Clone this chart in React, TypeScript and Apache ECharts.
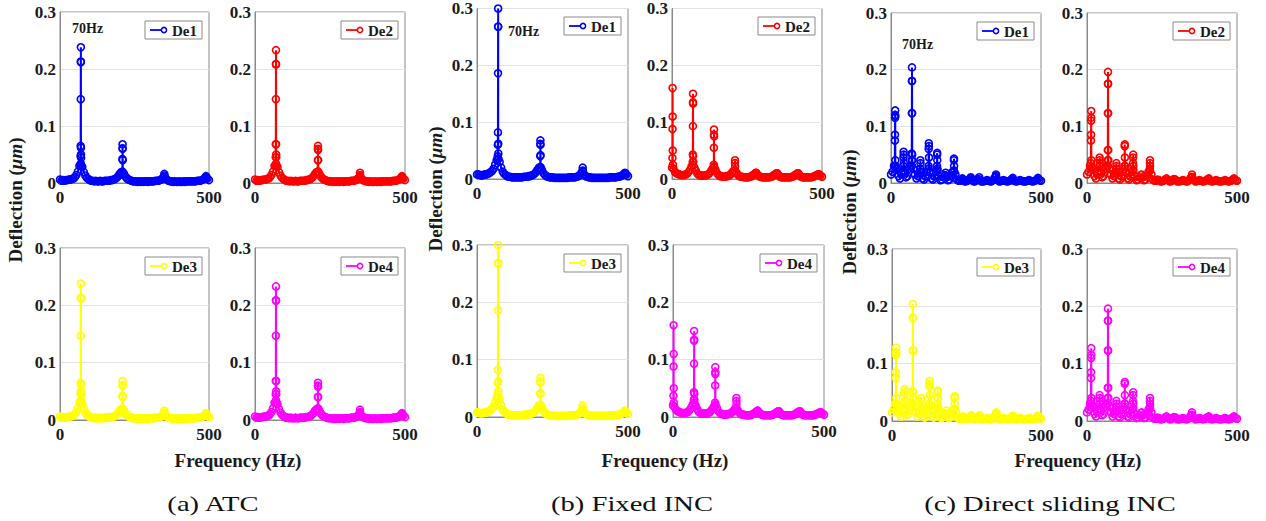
import { useEffect, useRef } from "react";
import * as echarts from "echarts";

// ---------------- DATA ----------------
// Noise-floor amplitudes (µm), sampled every STEP_HZ from 0 to 500 Hz
const STEP_HZ = 5;

const noiseATC = [
  0.006, 0.004, 0.005, 0.004, 0.005, 0.005, 0.006, 0.006, 0.007, 0.008,
  0.010, 0.014, 0.020, 0.030, 0.034, 0.028, 0.019, 0.013, 0.009, 0.007,
  0.005, 0.004, 0.004, 0.003, 0.004, 0.003, 0.003, 0.004, 0.003, 0.003,
  0.004, 0.004, 0.004, 0.004, 0.005, 0.005, 0.006, 0.007, 0.009, 0.012,
  0.016, 0.019, 0.020, 0.016, 0.011, 0.008, 0.006, 0.005, 0.004, 0.003,
  0.003, 0.003, 0.002, 0.003, 0.002, 0.003, 0.002, 0.003, 0.003, 0.002,
  0.003, 0.003, 0.003, 0.003, 0.004, 0.004, 0.004, 0.005, 0.006, 0.009,
  0.011, 0.008, 0.005, 0.004, 0.003, 0.003, 0.002, 0.003, 0.002, 0.002,
  0.003, 0.002, 0.002, 0.003, 0.002, 0.003, 0.003, 0.003, 0.003, 0.003,
  0.003, 0.003, 0.004, 0.004, 0.004, 0.005, 0.006, 0.008, 0.010, 0.008,
  0.005,
];

const noiseFixed1 = [
  0.008, 0.008, 0.007, 0.006, 0.007, 0.008, 0.008, 0.009, 0.010, 0.012,
  0.014, 0.018, 0.025, 0.033, 0.036, 0.030, 0.020, 0.013, 0.009, 0.007,
  0.005, 0.004, 0.004, 0.003, 0.003, 0.003, 0.003, 0.003, 0.003, 0.003,
  0.003, 0.004, 0.004, 0.004, 0.005, 0.005, 0.006, 0.007, 0.009, 0.012,
  0.016, 0.020, 0.021, 0.016, 0.010, 0.007, 0.005, 0.004, 0.003, 0.003,
  0.003, 0.002, 0.002, 0.002, 0.002, 0.002, 0.002, 0.002, 0.002, 0.002,
  0.002, 0.003, 0.003, 0.003, 0.003, 0.003, 0.004, 0.005, 0.006, 0.010,
  0.013, 0.008, 0.005, 0.004, 0.003, 0.003, 0.002, 0.002, 0.002, 0.002,
  0.002, 0.002, 0.002, 0.002, 0.002, 0.002, 0.002, 0.002, 0.003, 0.003,
  0.003, 0.003, 0.003, 0.004, 0.004, 0.005, 0.006, 0.008, 0.010, 0.008,
  0.005,
];

const noiseFixed2 = [
  0.020, 0.018, 0.012, 0.010, 0.009, 0.008, 0.007, 0.007, 0.007, 0.008,
  0.009, 0.012, 0.016, 0.022, 0.025, 0.020, 0.014, 0.009, 0.007, 0.006,
  0.006, 0.006, 0.006, 0.007, 0.008, 0.010, 0.014, 0.018, 0.020, 0.016,
  0.010, 0.007, 0.005, 0.005, 0.004, 0.004, 0.005, 0.005, 0.006, 0.008,
  0.011, 0.014, 0.015, 0.011, 0.007, 0.005, 0.004, 0.004, 0.003, 0.003,
  0.003, 0.003, 0.004, 0.005, 0.007, 0.009, 0.011, 0.008, 0.005, 0.004,
  0.003, 0.003, 0.003, 0.003, 0.003, 0.003, 0.004, 0.005, 0.007, 0.009,
  0.010, 0.007, 0.004, 0.003, 0.003, 0.003, 0.003, 0.003, 0.003, 0.003,
  0.004, 0.005, 0.007, 0.009, 0.010, 0.007, 0.004, 0.003, 0.003, 0.003,
  0.003, 0.003, 0.003, 0.003, 0.004, 0.005, 0.006, 0.008, 0.008, 0.006,
  0.004,
];

const noiseSliding = [
  0.015, 0.020, 0.030, 0.028, 0.025, 0.012, 0.008, 0.018, 0.022, 0.020,
  0.010, 0.012, 0.025, 0.030, 0.030, 0.025, 0.015, 0.008, 0.012, 0.020,
  0.018, 0.008, 0.006, 0.012, 0.020, 0.025, 0.020, 0.008, 0.006, 0.012,
  0.020, 0.022, 0.012, 0.005, 0.006, 0.010, 0.014, 0.010, 0.005, 0.006,
  0.012, 0.020, 0.022, 0.015, 0.006, 0.004, 0.004, 0.006, 0.005, 0.003,
  0.003, 0.004, 0.006, 0.008, 0.005, 0.003, 0.003, 0.005, 0.007, 0.006,
  0.003, 0.003, 0.003, 0.004, 0.005, 0.004, 0.003, 0.003, 0.005, 0.009,
  0.010, 0.006, 0.003, 0.003, 0.004, 0.005, 0.004, 0.003, 0.003, 0.004,
  0.006, 0.007, 0.004, 0.003, 0.003, 0.004, 0.005, 0.004, 0.003, 0.003,
  0.003, 0.004, 0.005, 0.004, 0.003, 0.003, 0.004, 0.006, 0.007, 0.005,
  0.004,
];

// Peak points [frequency Hz, deflection µm]
const peaksATC1 = [
  [68.6, 0.032], [69.0, 0.047], [69.3, 0.065], [69.6, 0.147], [69.8, 0.213],
  [70.0, 0.238], [70.2, 0.212], [70.4, 0.062], [70.6, 0.05], [70.9, 0.044], [71.3, 0.03],
  [209.2, 0.015], [209.5, 0.042], [209.8, 0.061], [210.0, 0.068], [210.2, 0.06],
  [210.5, 0.04], [210.8, 0.018],
  [349.6, 0.01], [350.0, 0.016], [350.4, 0.013],
  [489.6, 0.008], [490.0, 0.012], [490.4, 0.009],
];

const peaksATC2 = [
  [68.6, 0.03], [69.0, 0.045], [69.3, 0.068], [69.6, 0.147], [69.8, 0.209],
  [70.0, 0.233], [70.2, 0.208], [70.4, 0.068], [70.6, 0.05], [70.9, 0.045], [71.3, 0.03],
  [209.2, 0.02], [209.5, 0.04], [209.8, 0.06], [210.0, 0.065], [210.2, 0.058],
  [210.5, 0.04], [210.8, 0.02],
  [349.6, 0.012], [350.0, 0.018], [350.4, 0.014],
  [489.6, 0.008], [490.0, 0.012], [490.4, 0.01],
];

const peaksFixed1 = [
  [68.3, 0.035], [68.7, 0.04], [69.0, 0.06], [69.3, 0.082], [69.6, 0.186],
  [69.8, 0.268], [70.0, 0.3], [70.2, 0.268], [70.4, 0.062], [70.7, 0.045], [71.1, 0.035],
  [209.2, 0.02], [209.5, 0.04], [209.8, 0.062], [210.0, 0.068], [210.2, 0.06],
  [210.5, 0.042], [210.8, 0.02],
  [349.6, 0.014], [350.0, 0.02], [350.4, 0.015],
  [489.6, 0.008], [490.0, 0.011], [490.4, 0.009],
];

const peaksFixed2 = [
  [1.5, 0.037], [1.8, 0.088], [2.0, 0.16], [2.2, 0.11], [2.5, 0.05], [2.9, 0.025],
  [69.0, 0.03], [69.4, 0.043], [69.7, 0.093], [69.9, 0.135], [70.0, 0.15],
  [70.2, 0.133], [70.5, 0.04], [70.9, 0.03],
  [139.3, 0.025], [139.6, 0.055], [139.9, 0.078], [140.0, 0.087], [140.2, 0.075], [140.5, 0.022],
  [209.5, 0.015], [209.8, 0.028], [210.0, 0.033], [210.3, 0.022],
  [280.0, 0.011], [350.0, 0.01], [420.0, 0.01], [490.0, 0.008],
];

const peaksSliding1 = [
  [12.6, 0.03], [13.0, 0.075], [13.3, 0.085], [13.6, 0.115], [13.8, 0.12],
  [14.0, 0.128], [14.2, 0.118], [14.5, 0.04], [14.9, 0.03],
  [41.2, 0.03], [41.6, 0.045], [42.0, 0.055], [42.3, 0.05], [42.7, 0.035],
  [68.8, 0.04], [69.2, 0.052], [69.5, 0.123], [69.8, 0.18], [70.0, 0.204],
  [70.2, 0.18], [70.5, 0.123], [70.8, 0.05], [71.2, 0.04],
  [97.4, 0.025], [97.8, 0.04], [98.2, 0.035], [98.6, 0.02],
  [125.2, 0.03], [125.6, 0.06], [126.0, 0.07], [126.3, 0.065], [126.7, 0.045],
  [153.3, 0.03], [153.7, 0.05], [154.0, 0.053], [154.3, 0.04], [154.7, 0.025],
  [181.6, 0.012], [182.0, 0.018], [182.4, 0.012],
  [209.3, 0.02], [209.7, 0.04], [210.0, 0.043], [210.3, 0.03], [210.7, 0.02],
  [238.0, 0.008], [266.0, 0.01], [294.0, 0.01],
  [349.6, 0.012], [350.0, 0.015], [350.4, 0.011],
  [406.0, 0.009], [490.0, 0.009],
];

const peaksSliding2 = [
  [12.8, 0.035], [13.2, 0.075], [13.5, 0.085], [13.8, 0.11], [14.0, 0.127],
  [14.2, 0.115], [14.6, 0.04],
  [41.4, 0.03], [41.8, 0.04], [42.1, 0.045], [42.5, 0.035],
  [69.0, 0.04], [69.3, 0.058], [69.6, 0.123], [69.9, 0.175], [70.0, 0.196],
  [70.2, 0.175], [70.5, 0.123], [70.8, 0.058], [71.2, 0.04],
  [97.6, 0.025], [98.0, 0.035], [98.4, 0.03],
  [125.3, 0.03], [125.7, 0.065], [126.0, 0.068], [126.3, 0.045], [126.7, 0.03],
  [153.5, 0.035], [153.8, 0.045], [154.0, 0.05], [154.4, 0.03],
  [182.0, 0.015],
  [209.5, 0.025], [209.8, 0.035], [210.0, 0.04], [210.3, 0.03],
  [349.6, 0.011], [350.0, 0.015], [350.4, 0.01],
  [406.0, 0.008], [490.0, 0.008],
];

const yTicks = ["0", "0.1", "0.2", "0.3"];
const xTitle = "Frequency (Hz)";
const captions = ["(a) ATC", "(b) Fixed INC", "(c) Direct sliding INC"];
const peakNote = "70Hz";

// ---------------- LAYOUT / STYLE ----------------
const COLORS: Record<string, string> = {
  De1: "#0000ff",
  De2: "#ff0000",
  De3: "#ffff00",
  De4: "#ff00ff",
};

type Panel = { l: number; t: number; w: number; h: number; name: string; noise: number[]; peaks: number[][] };

const panels: Panel[] = [
  { l: 60, t: 12, w: 149, h: 171, name: "De1", noise: noiseATC, peaks: peaksATC1 },
  { l: 255, t: 12, w: 150, h: 171, name: "De2", noise: noiseATC, peaks: peaksATC2 },
  { l: 477, t: 8, w: 151, h: 171, name: "De1", noise: noiseFixed1, peaks: peaksFixed1 },
  { l: 672, t: 8, w: 150, h: 171, name: "De2", noise: noiseFixed2, peaks: peaksFixed2 },
  { l: 891, t: 13, w: 150, h: 170, name: "De1", noise: noiseSliding, peaks: peaksSliding1 },
  { l: 1087, t: 13, w: 150, h: 170, name: "De2", noise: noiseSliding, peaks: peaksSliding2 },
  { l: 60, t: 248, w: 149, h: 172, name: "De3", noise: noiseATC, peaks: peaksATC1 },
  { l: 255, t: 248, w: 150, h: 172, name: "De4", noise: noiseATC, peaks: peaksATC2 },
  { l: 477, t: 245, w: 151, h: 172, name: "De3", noise: noiseFixed1, peaks: peaksFixed1 },
  { l: 673, t: 245, w: 151, h: 172, name: "De4", noise: noiseFixed2, peaks: peaksFixed2 },
  { l: 892, t: 249, w: 149, h: 172, name: "De3", noise: noiseSliding, peaks: peaksSliding1 },
  { l: 1087, t: 249, w: 150, h: 172, name: "De4", noise: noiseSliding, peaks: peaksSliding2 },
];

const SERIF = "Liberation Serif";
const TEXT = "#1a1a1a";
const FRAME = "#8a8a8a";

function buildPoints(noise: number[], peaks: number[][]) {
  const pts: number[][] = noise.map((v, i) => [i * STEP_HZ, v]);
  peaks.forEach((p) => pts.push([p[0], p[1]]));
  pts.sort((a, b) => a[0] - b[0]);
  return pts;
}

function buildOption() {
  const grid: any[] = [];
  const xAxis: any[] = [];
  const yAxis: any[] = [];
  const series: any[] = [];
  const graphic: any[] = [];

  panels.forEach((p, i) => {
    const color = COLORS[p.name];
    grid.push({
      left: p.l, top: p.t, width: p.w, height: p.h,
      show: true, borderColor: FRAME, borderWidth: 1, backgroundColor: "#fff",
    });
    xAxis.push({
      gridIndex: i, type: "value", min: 0, max: 500, interval: 500,
      axisLine: { show: true, lineStyle: { color: FRAME, width: 1 } },
      axisTick: { show: false },
      splitLine: { show: false },
      axisLabel: {
        fontFamily: SERIF, fontWeight: "bold", fontSize: 17, color: TEXT, margin: 6,
        showMinLabel: true, showMaxLabel: true,
      },
    });
    yAxis.push({
      gridIndex: i, type: "value", min: 0, max: 0.3, interval: 0.1,
      axisLine: { show: true, lineStyle: { color: FRAME, width: 1 } },
      axisTick: { show: false },
      splitLine: { show: true, lineStyle: { color: "#e3e3e3", width: 1 } },
      axisLabel: {
        fontFamily: SERIF, fontWeight: "bold", fontSize: 17, color: TEXT, margin: 4,
        formatter: (v: number) => yTicks[Math.round(v * 10)] ?? String(v),
      },
    });
    series.push({
      type: "line", name: p.name, xAxisIndex: i, yAxisIndex: i,
      data: buildPoints(p.noise, p.peaks),
      symbol: "circle", symbolSize: 7, showAllSymbol: true, clip: false,
      lineStyle: { color, width: 2 },
      itemStyle: { color: "rgba(255,255,255,0)", borderColor: color, borderWidth: 1.6 },
      emphasis: { disabled: true }, silent: true, z: 3,
    });

    // legend box (MATLAB style)
    const bw = 57, bh = 18;
    const bx = p.l + p.w - 7 - bw;
    const by = p.t + 9;
    graphic.push({
      type: "group", z: 100, silent: true,
      children: [
        { type: "rect", shape: { x: bx, y: by, width: bw, height: bh }, style: { fill: "#fff", stroke: FRAME, lineWidth: 1 } },
        { type: "line", shape: { x1: bx + 5, y1: by + bh / 2, x2: bx + 20, y2: by + bh / 2 }, style: { stroke: color, lineWidth: 1.8 } },
        { type: "circle", shape: { cx: bx + 19, cy: by + bh / 2, r: 2.6 }, style: { fill: "#fff", stroke: color, lineWidth: 1.5 } },
        {
          type: "text", x: bx + 27, y: by + bh / 2 + 0.5,
          style: { text: p.name, fill: TEXT, fontFamily: SERIF, fontWeight: "bold", fontSize: 15, textAlign: "left", textVerticalAlign: "middle" },
        },
      ],
    });
  });

  // "70Hz" notes
  const notes = [
    { x: 72, y: 28 },
    { x: 508, y: 31 },
    { x: 902, y: 44 },
  ];
  notes.forEach((n) =>
    graphic.push({
      type: "text", x: n.x, y: n.y, z: 100, silent: true,
      style: { text: peakNote, fill: TEXT, fontFamily: SERIF, fontWeight: "bold", fontSize: 14, textAlign: "left", textVerticalAlign: "middle" },
    })
  );

  // x titles
  [238, 665, 1078].forEach((cx) =>
    graphic.push({
      type: "text", x: cx, y: 460, z: 100, silent: true,
      style: { text: xTitle, fill: TEXT, fontFamily: SERIF, fontWeight: "bold", fontSize: 19, textAlign: "center", textVerticalAlign: "middle" },
    })
  );

  // y titles
  [
    { x: 15, y: 200 },
    { x: 435, y: 189 },
    { x: 849, y: 212 },
  ].forEach((pos) =>
    graphic.push({
      type: "text", x: pos.x, y: pos.y, rotation: Math.PI / 2, z: 100, silent: true,
      style: {
        text: "{b|Deflection (}{i|μm}{b|)}",
        textAlign: "center", textVerticalAlign: "middle",
        rich: {
          b: { fontFamily: SERIF, fontWeight: "bold", fontSize: 19, fill: TEXT, color: TEXT },
          i: { fontFamily: SERIF, fontWeight: "bold", fontStyle: "italic", fontSize: 19, fill: TEXT, color: TEXT },
        },
      },
    })
  );

  // captions
  [213, 632, 1050].forEach((cx, k) =>
    graphic.push({
      type: "text", x: cx, y: 504, scaleX: 1.3, z: 100, silent: true,
      style: { text: captions[k], fill: "#111", fontFamily: SERIF, fontSize: 22, textAlign: "center", textVerticalAlign: "middle" },
    })
  );

  return {
    animation: false,
    backgroundColor: "#fff",
    grid, xAxis, yAxis, series, graphic,
  };
}

export default function App() {
  const ref = useRef<HTMLDivElement>(null);
  useEffect(() => {
    if (!ref.current) return;
    const chart = echarts.init(ref.current, undefined, { renderer: "svg" });
    chart.setOption(buildOption() as any);
    return () => chart.dispose();
  }, []);
  return (
    <div
      ref={ref}
      style={{ position: "absolute", left: 0, top: 0, width: 1266, height: 521, background: "#fff" }}
    />
  );
}
